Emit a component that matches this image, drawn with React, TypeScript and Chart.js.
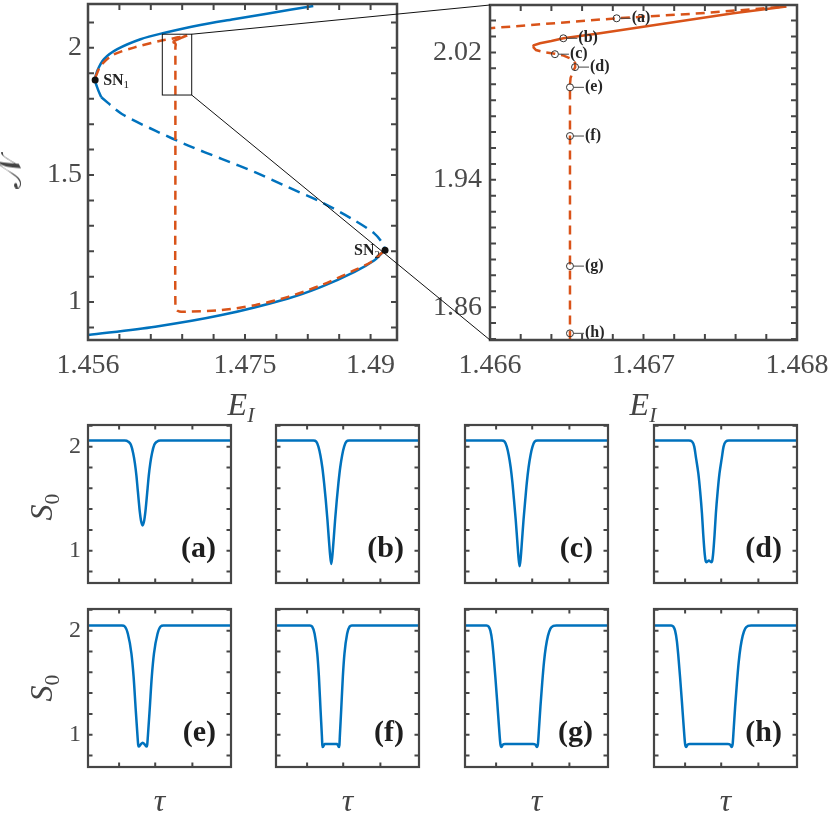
import React, { useEffect, useRef } from "react";
import { Chart, registerables } from "chart.js";

Chart.register(...registerables);

// ---------------- data: main bifurcation diagram (E_I vs N) ----------------
const blueUpperE = [1.4576, 1.45718, 1.45686, 1.45712, 1.45792, 1.45953, 1.46232, 1.465, 1.46952, 1.47352, 1.47753, 1.48312];
const blueUpperN = [1.806, 1.838, 1.874, 1.91, 1.956, 1.995, 2.034, 2.0576, 2.09, 2.1125, 2.1345, 2.1647];

const blueMiddleE = [1.4576, 1.46008, 1.46409, 1.46808, 1.47208, 1.47609, 1.48009, 1.48408, 1.48809, 1.49049, 1.49149, 1.49176];
const blueMiddleN = [1.806, 1.74, 1.6745, 1.6157, 1.5635, 1.511, 1.452, 1.3933, 1.3216, 1.2694, 1.23, 1.204];

const blueLowerE = [1.456, 1.46409, 1.47208, 1.48009, 1.48408, 1.48809, 1.49049, 1.49149, 1.49176];
const blueLowerN = [0.8706, 0.9033, 0.949, 1.0145, 1.06, 1.119, 1.1647, 1.197, 1.204];

const orangeUpperE = [1.4569, 1.45752, 1.459, 1.46152, 1.465, 1.466, 1.466825, 1.46737, 1.46793];
const orangeUpperN = [1.885, 1.929, 1.972, 2.001, 2.03, 2.0352, 2.04145, 2.0446, 2.0488];

const orangeStableE = [1.46793, 1.467585, 1.467151, 1.466717, 1.466478, 1.4664, 1.466326, 1.466285, 1.46628];
const orangeStableN = [2.0488, 2.04456, 2.03831, 2.03206, 2.0289, 2.0272, 2.0258, 2.0245, 2.0235];

const orangeLowerE = [1.46628, 1.4663, 1.46636, 1.466423, 1.46648, 1.46653, 1.466554, 1.466555, 1.46654, 1.466525, 1.466521, 1.466521, 1.466521, 1.466521, 1.4667, 1.467, 1.46769, 1.47208, 1.47609, 1.48009, 1.48408, 1.48809, 1.49009, 1.49129, 1.49176];
const orangeLowerN = [2.0235, 2.0215, 2.02, 2.0192, 2.018, 2.016, 2.0135, 2.0108, 2.008, 2.004, 2.0, 1.9981, 1.5, 0.99, 0.968, 0.963, 0.962, 0.9686, 0.988, 1.0208, 1.0667, 1.1255, 1.158, 1.191, 1.204];

const snE = [1.45686, 1.49176];
const snN = [1.8733, 1.204];
const snSubs = ["1", "2"];

const markerE = [1.466825, 1.466478, 1.466423, 1.466554, 1.466521, 1.466521, 1.466521, 1.466521];
const markerN = [2.04145, 2.0289, 2.0189, 2.0108, 1.9981, 1.9675, 1.8858, 1.8436];
const markerLabels = ["(a)", "(b)", "(c)", "(d)", "(e)", "(f)", "(g)", "(h)"];

const zoomBoxE = [1.464945, 1.468485];
const zoomBoxN = [1.8145, 2.0537];

// ticks
const leftXTicks = [1.456, 1.45978, 1.46356, 1.46734, 1.47112, 1.4749, 1.47868, 1.48246, 1.48624, 1.49002];
const leftXTickLabels = ["1.456", "", "", "", "", "1.475", "", "", "", "1.49"];
const leftYTicks = [0.9, 1.0, 1.1, 1.2, 1.3, 1.4, 1.5, 1.6, 1.7, 1.8, 1.9, 2.0, 2.1];
const leftYTickLabels = ["", "1", "", "", "", "", "1.5", "", "", "", "", "2", ""];
const rightXTicks = [1.466, 1.4662, 1.4664, 1.4666, 1.4668, 1.467, 1.4672, 1.4674, 1.4676, 1.4678, 1.468];
const rightXTickLabels = ["1.466", "", "", "", "", "1.467", "", "", "", "", "1.468"];
const rightYTicks = [1.84, 1.85, 1.86, 1.87, 1.88, 1.89, 1.9, 1.91, 1.92, 1.93, 1.94, 1.95, 1.96, 1.97, 1.98, 1.99, 2.0, 2.01, 2.02, 2.03, 2.04];
const rightYTickLabels = ["", "", "1.86", "", "", "", "", "", "", "", "1.94", "", "", "", "", "", "", "", "2.02", "", ""];

// ---------------- data: pulse profiles S0(tau) ----------------
const tauA = [0, 1.027, 1.127, 1.197, 1.262, 1.312, 1.355, 1.387, 1.419, 1.45, 1.482, 1.527, 1.572, 1.604, 1.635, 1.667, 1.699, 1.742, 1.792, 1.857, 1.927, 2.027, 4];
const s0A = [2.058, 2.058, 2.048, 2.02, 1.94, 1.84, 1.72, 1.6, 1.48, 1.37, 1.29, 1.243, 1.29, 1.37, 1.48, 1.6, 1.72, 1.84, 1.94, 2.02, 2.048, 2.058, 2.058];
const tauB = [0, 1.046, 1.126, 1.186, 1.24, 1.296, 1.346, 1.391, 1.438, 1.48, 1.516, 1.546, 1.576, 1.612, 1.654, 1.701, 1.746, 1.796, 1.852, 1.906, 1.966, 2.046, 4];
const s0B = [2.058, 2.058, 2.048, 2.0, 1.92, 1.8, 1.65, 1.49, 1.3, 1.105, 0.95, 0.873, 0.95, 1.105, 1.3, 1.49, 1.65, 1.8, 1.92, 2.0, 2.048, 2.058, 2.058];
const tauC = [0, 1.028, 1.108, 1.168, 1.222, 1.278, 1.328, 1.37, 1.418, 1.46, 1.498, 1.528, 1.558, 1.596, 1.638, 1.686, 1.728, 1.778, 1.834, 1.888, 1.948, 2.028, 4];
const s0C = [2.058, 2.058, 2.048, 2.0, 1.92, 1.8, 1.65, 1.49, 1.3, 1.105, 0.93, 0.85, 0.93, 1.105, 1.3, 1.49, 1.65, 1.8, 1.92, 2.0, 2.048, 2.058, 2.058];
const tauD = [0, 0.976, 1.066, 1.126, 1.176, 1.241, 1.291, 1.341, 1.378, 1.421, 1.446, 1.47, 1.536, 1.602, 1.626, 1.651, 1.694, 1.731, 1.781, 1.831, 1.896, 1.946, 2.006, 2.096, 4];
const s0D = [2.058, 2.058, 2.048, 2.0, 1.89, 1.74, 1.57, 1.36, 1.153, 0.96, 0.9, 0.89, 0.905, 0.89, 0.9, 0.96, 1.153, 1.36, 1.57, 1.74, 1.89, 2.0, 2.048, 2.058, 2.058];
const tauE = [0, 0.95, 1.03, 1.115, 1.215, 1.275, 1.335, 1.385, 1.405, 1.42, 1.47, 1.53, 1.59, 1.64, 1.655, 1.675, 1.725, 1.785, 1.845, 1.945, 2.03, 2.11, 4];
const s0E = [2.05, 2.05, 2.04, 1.97, 1.78, 1.56, 1.24, 0.987, 0.9, 0.886, 0.905, 0.924, 0.905, 0.886, 0.9, 0.987, 1.24, 1.56, 1.78, 1.97, 2.04, 2.05, 2.05];
const tauF = [0, 0.95, 1.01, 1.08, 1.155, 1.2, 1.246, 1.284, 1.296, 1.31, 1.36, 1.45, 1.535, 1.62, 1.71, 1.76, 1.774, 1.786, 1.824, 1.87, 1.915, 1.99, 2.06, 2.12, 4];
const s0F = [2.05, 2.05, 2.04, 1.97, 1.78, 1.56, 1.24, 0.987, 0.9, 0.882, 0.91, 0.912, 0.912, 0.912, 0.91, 0.882, 0.9, 0.987, 1.24, 1.56, 1.78, 1.97, 2.04, 2.05, 2.05];
const tauG = [0, 0.6, 0.66, 0.71, 0.76, 0.8, 0.85, 0.9, 0.95, 0.99, 1.02, 1.06, 1.12, 1.5, 1.9, 1.97, 2.01, 2.04, 2.07, 2.11, 2.16, 2.21, 2.26, 2.32, 2.39, 2.47, 2.56, 4];
const s0G = [2.05, 2.05, 2.04, 2.0, 1.9, 1.76, 1.55, 1.32, 1.08, 0.91, 0.882, 0.905, 0.912, 0.912, 0.912, 0.905, 0.882, 0.91, 1.06, 1.27, 1.5, 1.7, 1.84, 1.95, 2.02, 2.045, 2.05, 2.05];
const tauH = [0, 0.48, 0.54, 0.59, 0.64, 0.68, 0.73, 0.78, 0.83, 0.87, 0.9, 0.94, 1.0, 1.5, 2.06, 2.13, 2.17, 2.2, 2.23, 2.27, 2.32, 2.37, 2.42, 2.48, 2.55, 2.63, 2.72, 4];
const s0H = [2.05, 2.05, 2.04, 2.0, 1.9, 1.76, 1.55, 1.32, 1.08, 0.91, 0.882, 0.905, 0.912, 0.912, 0.912, 0.905, 0.882, 0.91, 1.06, 1.27, 1.5, 1.7, 1.84, 1.95, 2.02, 2.045, 2.05, 2.05];

const panelTaus = [tauA, tauB, tauC, tauD, tauE, tauF, tauG, tauH];
const panelS0s = [s0A, s0B, s0C, s0D, s0E, s0F, s0G, s0H];
const panelLetters = ["(a)", "(b)", "(c)", "(d)", "(e)", "(f)", "(g)", "(h)"];

const smallXTicks = [0.87, 1.88, 2.92];
const smallYTicks = [0.8, 1.0, 1.2, 1.4, 1.6, 1.8, 2.0, 2.2];
const smallYTickLabels = ["", "1", "", "", "", "", "2", ""];

// ---------------- styling / layout ----------------
const BLUE = "#0072BD";
const ORANGE = "#D95319";
const AXIS = "#464646";
const LABEL = "#4a4a4a";
const SERIF = '"Liberation Serif", "DejaVu Serif", serif';

type Area = { left: number; top: number; w: number; h: number };
type Frame = { yW: number; padTop: number; padRight: number; xH: number };

const LEFT_AREA: Area = { left: 88, top: 3, w: 309, h: 337 };
const LEFT_FRAME: Frame = { yW: 88, padTop: 3, padRight: 30, xH: 60 };
const RIGHT_AREA: Area = { left: 490, top: 3, w: 307, h: 337 };
const RIGHT_FRAME: Frame = { yW: 75, padTop: 3, padRight: 34, xH: 60 };
const SMALL_LEFTS = [88, 276, 465, 654];
const SMALL_TOPS = [425, 609];
const SMALL_W = 143;
const SMALL_H = 158;
const SMALL_FRAME: Frame = { yW: 50, padTop: 4, padRight: 6, xH: 8 };

function boxOf(a: Area, f: Frame) {
  return { left: a.left - f.yW, top: a.top - f.padTop, width: f.yW + a.w + f.padRight, height: f.padTop + a.h + f.xH };
}

const zip = (xs: number[], ys: number[]) => xs.map((x, i) => ({ x, y: ys[i] }));

const lineDs = (data: any[], color: string, dash: number[], extra: any = {}) => ({
  data,
  showLine: true,
  borderColor: color,
  borderWidth: 2.5,
  borderDash: dash,
  borderCapStyle: "butt",
  pointRadius: 0,
  fill: false,
  ...extra,
});

type BuildOpts = {
  datasets: any[];
  frame: Frame;
  xMin: number; xMax: number; yMin: number; yMax: number;
  xTicks: number[]; xTickLabels: string[];
  yTicks: number[]; yTickLabels: string[];
  fontSize: number; xPad: number; yPad: number;
  tickLen: number; boxWidth: number; tension: number;
  draw?: (chart: any) => void;
};

function buildChart(canvas: HTMLCanvasElement, p: BuildOpts) {
  const framePlugin = {
    id: "matlabFrame",
    afterDatasetsDraw(chart: any) {
      const { ctx, chartArea: a } = chart;
      const xs = chart.scales.x;
      const ys = chart.scales.y;
      ctx.save();
      if (p.draw) p.draw(chart);
      ctx.strokeStyle = AXIS;
      ctx.lineWidth = 2;
      ctx.setLineDash([]);
      ctx.beginPath();
      xs.ticks.forEach((t: any) => {
        const px = xs.getPixelForValue(t.value);
        ctx.moveTo(px, a.bottom);
        ctx.lineTo(px, a.bottom - p.tickLen);
        ctx.moveTo(px, a.top);
        ctx.lineTo(px, a.top + p.tickLen);
      });
      ys.ticks.forEach((t: any) => {
        const py = ys.getPixelForValue(t.value);
        ctx.moveTo(a.left, py);
        ctx.lineTo(a.left + p.tickLen, py);
        ctx.moveTo(a.right, py);
        ctx.lineTo(a.right - p.tickLen, py);
      });
      ctx.stroke();
      ctx.lineWidth = p.boxWidth;
      ctx.strokeRect(a.left, a.top, a.right - a.left, a.bottom - a.top);
      ctx.restore();
    },
  };
  const font = { family: SERIF, size: p.fontSize };
  return new Chart(canvas, {
    type: "scatter",
    data: { datasets: p.datasets },
    options: {
      animation: false,
      responsive: false,
      devicePixelRatio: 1,
      events: [],
      layout: { padding: { left: 0, top: p.frame.padTop, right: p.frame.padRight, bottom: 0 } },
      plugins: { legend: { display: false }, tooltip: { enabled: false }, title: { display: false } },
      elements: { line: { tension: p.tension }, point: { radius: 0 } },
      scales: {
        x: {
          type: "linear",
          min: p.xMin,
          max: p.xMax,
          grid: { display: false, drawTicks: false },
          border: { display: false },
          afterBuildTicks: (s: any) => {
            s.ticks = p.xTicks.map((v) => ({ value: v }));
          },
          afterFit: (s: any) => {
            s.height = p.frame.xH;
            s.paddingLeft = 0;
            s.paddingRight = 0;
          },
          ticks: {
            autoSkip: false,
            maxRotation: 0,
            minRotation: 0,
            padding: p.xPad,
            color: LABEL,
            font,
            callback: (_v: any, i: number) => p.xTickLabels[i] ?? "",
          },
        },
        y: {
          type: "linear",
          min: p.yMin,
          max: p.yMax,
          grid: { display: false, drawTicks: false },
          border: { display: false },
          afterBuildTicks: (s: any) => {
            s.ticks = p.yTicks.map((v) => ({ value: v }));
          },
          afterFit: (s: any) => {
            s.width = p.frame.yW;
            s.paddingTop = 0;
            s.paddingBottom = 0;
          },
          ticks: {
            autoSkip: false,
            padding: p.yPad,
            color: LABEL,
            font,
            callback: (_v: any, i: number) => p.yTickLabels[i] ?? "",
          },
        },
      },
    } as any,
    plugins: [framePlugin],
  });
}

function drawSub(ctx: CanvasRenderingContext2D, main: string, sub: string, x: number, y: number, align: "left" | "right") {
  ctx.font = `bold 16px ${SERIF}`;
  const w1 = ctx.measureText(main).width;
  ctx.font = `11px ${SERIF}`;
  const w2 = ctx.measureText(sub).width;
  const start = align === "left" ? x : x - w1 - w2;
  ctx.textAlign = "left";
  ctx.textBaseline = "alphabetic";
  ctx.fillStyle = "#222";
  ctx.font = `bold 16px ${SERIF}`;
  ctx.fillText(main, start, y + 5);
  ctx.font = `11px ${SERIF}`;
  ctx.fillText(sub, start + w1, y + 8);
}

export default function App() {
  const leftRef = useRef<HTMLCanvasElement>(null);
  const rightRef = useRef<HTMLCanvasElement>(null);
  const overlayRef = useRef<HTMLCanvasElement>(null);
  const smallRefs = useRef<(HTMLCanvasElement | null)[]>([]);

  const leftBox = boxOf(LEFT_AREA, LEFT_FRAME);
  const rightBox = boxOf(RIGHT_AREA, RIGHT_FRAME);
  const smallBoxes = panelLetters.map((_, i) =>
    boxOf({ left: SMALL_LEFTS[i % 4], top: SMALL_TOPS[Math.floor(i / 4)], w: SMALL_W, h: SMALL_H }, SMALL_FRAME)
  );

  useEffect(() => {
    const charts: Chart[] = [];
    const orangeSets = () => [
      lineDs(zip(orangeStableE, orangeStableN), ORANGE, []),
      lineDs(zip(orangeUpperE, orangeUpperN), ORANGE, [9, 6]),
      lineDs(zip(orangeLowerE, orangeLowerN), ORANGE, [9, 6]),
    ];

    const left = buildChart(leftRef.current!, {
      datasets: [
        { data: zip(snE, snN), showLine: false, pointRadius: 3.5, pointBackgroundColor: "#111", pointBorderColor: "#111", pointBorderWidth: 0 },
        ...orangeSets(),
        lineDs(zip(blueUpperE, blueUpperN), BLUE, []),
        lineDs(zip(blueMiddleE, blueMiddleN), BLUE, [12, 7]),
        lineDs(zip(blueLowerE, blueLowerN), BLUE, []),
      ],
      frame: LEFT_FRAME,
      xMin: 1.456, xMax: 1.4932, yMin: 0.851, yMax: 2.1725,
      xTicks: leftXTicks, xTickLabels: leftXTickLabels,
      yTicks: leftYTicks, yTickLabels: leftYTickLabels,
      fontSize: 28, xPad: 9, yPad: 6, tickLen: 6, boxWidth: 2.5, tension: 0.3,
      draw: (chart) => {
        const { ctx } = chart;
        const xs = chart.scales.x, ys = chart.scales.y;
        ctx.strokeStyle = "#111";
        ctx.lineWidth = 1;
        const x0 = xs.getPixelForValue(zoomBoxE[0]), x1 = xs.getPixelForValue(zoomBoxE[1]);
        const y0 = ys.getPixelForValue(zoomBoxN[1]), y1 = ys.getPixelForValue(zoomBoxN[0]);
        ctx.strokeRect(x0, y0, x1 - x0, y1 - y0);
        snE.forEach((e, i) => {
          const px = xs.getPixelForValue(e), py = ys.getPixelForValue(snN[i]);
          if (i === 0) drawSub(ctx, "SN", snSubs[i], px + 8, py, "left");
          else drawSub(ctx, "SN", snSubs[i], px - 5, py, "right");
        });
      },
    });
    charts.push(left);

    const right = buildChart(rightRef.current!, {
      datasets: [
        { data: zip(markerE, markerN), showLine: false, pointRadius: 3.5, pointBackgroundColor: "rgba(255,255,255,0)", pointBorderColor: "#333", pointBorderWidth: 1 },
        ...orangeSets(),
      ],
      frame: RIGHT_FRAME,
      xMin: 1.466, xMax: 1.468, yMin: 1.8394, yMax: 2.0498,
      xTicks: rightXTicks, xTickLabels: rightXTickLabels,
      yTicks: rightYTicks, yTickLabels: rightYTickLabels,
      fontSize: 28, xPad: 9, yPad: 8, tickLen: 6, boxWidth: 2.5, tension: 0,
      draw: (chart) => {
        const { ctx } = chart;
        const xs = chart.scales.x, ys = chart.scales.y;
        ctx.strokeStyle = "#444";
        ctx.lineWidth = 1;
        ctx.fillStyle = "#262626";
        ctx.font = `bold 16px ${SERIF}`;
        ctx.textAlign = "left";
        ctx.textBaseline = "middle";
        markerE.forEach((e, i) => {
          const px = xs.getPixelForValue(e), py = ys.getPixelForValue(markerN[i]);
          ctx.beginPath();
          ctx.moveTo(px + 3.5, py);
          ctx.lineTo(px + 14, py);
          ctx.stroke();
          ctx.fillText(markerLabels[i], px + 15, py);
        });
      },
    });
    charts.push(right);

    panelLetters.forEach((letter, i) => {
      const cv = smallRefs.current[i];
      if (!cv) return;
      const showY = i % 4 === 0;
      const c = buildChart(cv, {
        datasets: [
          lineDs(zip(panelTaus[i], panelS0s[i]), BLUE, [], { cubicInterpolationMode: "monotone" }),
        ],
        frame: SMALL_FRAME,
        xMin: 0, xMax: 4, yMin: 0.69, yMax: 2.208,
        xTicks: smallXTicks, xTickLabels: smallXTicks.map(() => ""),
        yTicks: smallYTicks, yTickLabels: showY ? smallYTickLabels : smallYTicks.map(() => ""),
        fontSize: 24, xPad: 2, yPad: 7, tickLen: 4.5, boxWidth: 2.2, tension: 0,
        draw: (chart) => {
          const { ctx, chartArea: a } = chart;
          ctx.fillStyle = "#1e1e1e";
          ctx.font = `bold 30px ${SERIF}`;
          ctx.textAlign = "right";
          ctx.textBaseline = "alphabetic";
          ctx.fillText(letter, a.right - 15, a.bottom - 26);
        },
      });
      charts.push(c);
    });

    // zoom connectors
    const ov = overlayRef.current!;
    const octx = ov.getContext("2d")!;
    octx.clearRect(0, 0, ov.width, ov.height);
    const lx = leftBox.left + left.scales.x.getPixelForValue(zoomBoxE[1]);
    const lyTop = leftBox.top + left.scales.y.getPixelForValue(zoomBoxN[1]);
    const lyBot = leftBox.top + left.scales.y.getPixelForValue(zoomBoxN[0]);
    const rx = rightBox.left + right.chartArea.left;
    const ryTop = rightBox.top + right.chartArea.top;
    const ryBot = rightBox.top + right.chartArea.bottom;
    octx.strokeStyle = "#111";
    octx.lineWidth = 1;
    octx.beginPath();
    octx.moveTo(lx, lyTop);
    octx.lineTo(rx, ryTop);
    octx.moveTo(lx, lyBot);
    octx.lineTo(rx, ryBot);
    octx.stroke();

    return () => charts.forEach((c) => c.destroy());
  }, []);

  const abs = (b: { left: number; top: number; width: number; height: number }): React.CSSProperties => ({
    position: "absolute",
    left: b.left,
    top: b.top,
    width: b.width,
    height: b.height,
  });

  const titleBase: React.CSSProperties = {
    position: "absolute",
    fontFamily: SERIF,
    fontStyle: "italic",
    color: "#444",
    whiteSpace: "nowrap",
    lineHeight: 1,
  };

  const subStyle: React.CSSProperties = { fontSize: "0.68em", position: "relative", top: "0.3em" };

  return (
    <div style={{ position: "absolute", left: 0, top: 0, width: 831, height: 813, background: "#fff", overflow: "hidden" }}>
      <canvas ref={leftRef} width={leftBox.width} height={leftBox.height} style={abs(leftBox)} />
      <canvas ref={rightRef} width={rightBox.width} height={rightBox.height} style={abs(rightBox)} />
      {smallBoxes.map((b, i) => (
        <canvas
          key={i}
          ref={(el) => {
            smallRefs.current[i] = el;
          }}
          width={b.width}
          height={b.height}
          style={abs(b)}
        />
      ))}
      <canvas ref={overlayRef} width={831} height={813} style={{ position: "absolute", left: 0, top: 0, width: 831, height: 813, pointerEvents: "none" }} />

      <div style={{ ...titleBase, fontStyle: "normal", fontSize: 34, left: 10, top: 172, transform: "translate(-50%,-50%) rotate(-90deg)" }}>𝒩</div>
      <div style={{ ...titleBase, fontSize: 32, left: 241, top: 404, transform: "translate(-50%,-50%)" }}>
        E<span style={subStyle}>I</span>
      </div>
      <div style={{ ...titleBase, fontSize: 32, left: 643, top: 404, transform: "translate(-50%,-50%)" }}>
        E<span style={subStyle}>I</span>
      </div>
      {[507, 688].map((cy) => (
        <div key={cy} style={{ ...titleBase, fontSize: 32, left: 41, top: cy, transform: "translate(-50%,-50%) rotate(-90deg)" }}>
          S<span style={{ ...subStyle, fontStyle: "normal" }}>0</span>
        </div>
      ))}
      {SMALL_LEFTS.map((l) => (
        <div key={l} style={{ ...titleBase, fontSize: 32, left: l + SMALL_W / 2, top: 800, transform: "translate(-50%,-50%)" }}>
          τ
        </div>
      ))}
    </div>
  );
}
